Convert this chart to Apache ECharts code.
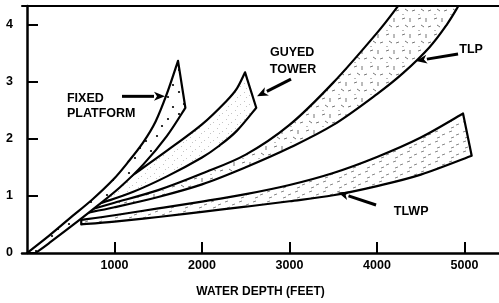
<!DOCTYPE html>
<html>
<head>
<meta charset="utf-8">
<script src="https://cdn.jsdelivr.net/npm/echarts@6/dist/echarts.min.js"></script>
<style>
html,body{margin:0;padding:0;background:#fff;}
#main{width:499px;height:303px;}
</style>
</head>
<body>
<div id="main"></div>
<script>
// axis ticks
var xTicks = [1000, 2000, 3000, 4000, 5000];
var yTicks = [0, 1, 2, 3, 4];

// band outlines [water depth ft, ratio]; upper edge left->right, lower edge right->left
var fixedUpper = [[0, 0], [250, 0.3], [491, 0.61], [750, 0.94], [983, 1.28], [1150, 1.58], [1326, 1.93], [1470, 2.3], [1600, 2.79], [1726, 3.36]];
var fixedLower = [[1810, 2.54], [1600, 2.05], [1330, 1.55], [1063, 1.15], [800, 0.82], [500, 0.46], [250, 0.17], [100, 0]];

var guyedUpper = [[830, 0.96], [1000, 1.14], [1215, 1.37], [1600, 1.79], [2000, 2.25], [2280, 2.66], [2400, 2.88], [2492, 3.16]];
var guyedLower = [[2620, 2.54], [2400, 2.14], [2200, 1.88], [2000, 1.67], [1600, 1.34], [1215, 1.07], [900, 0.9], [830, 0.87]];

var tlpUpper = [[680, 0.74], [1000, 0.88], [1500, 1.1], [2000, 1.39], [2500, 1.72], [3000, 2.24], [3500, 2.98], [4000, 3.85], [4240, 4.32]];
var tlpLower = [[4930, 4.32], [4800, 4.0], [4600, 3.6], [4300, 3.15], [4000, 2.78], [3500, 2.24], [3000, 1.84], [2500, 1.5], [2000, 1.2], [1500, 0.98], [1000, 0.8], [680, 0.7]];

var tlwpUpper = [[620, 0.58], [1000, 0.66], [1500, 0.78], [2000, 0.9], [2500, 1.03], [3000, 1.19], [3500, 1.4], [4000, 1.68], [4500, 2.02], [4983, 2.44]];
var tlwpLower = [[5082, 1.7], [4500, 1.37], [4000, 1.17], [3500, 1.01], [3000, 0.905], [2500, 0.81], [2000, 0.72], [1500, 0.63], [1000, 0.55], [620, 0.5]];

// labels and arrows (data coords)
var notes = [
  {text: 'FIXED', at: [457, 2.71], align: 'left'},
  {text: 'PLATFORM', at: [457, 2.44], align: 'left'},
  {text: 'GUYED', at: [3030, 3.5], align: 'center'},
  {text: 'TOWER', at: [3040, 3.21], align: 'center'},
  {text: 'TLP', at: [5075, 3.56], align: 'center'},
  {text: 'TLWP', at: [4390, 0.72], align: 'center'}
];
var arrows = [
  {from: [1086, 2.74], to: [1577, 2.74]},
  {from: [3017, 3.04], to: [2629, 2.74]},
  {from: [4926, 3.48], to: [4446, 3.36]},
  {from: [3989, 0.84], to: [3555, 1.06]}
];

function tile(w, h, draw) {
  var c = document.createElement('canvas');
  c.width = w; c.height = h;
  var ctx = c.getContext('2d');
  ctx.fillStyle = '#fff';
  ctx.fillRect(0, 0, w, h);
  draw(ctx);
  return {image: c, repeat: 'repeat'};
}
var dotFill = tile(22, 22, function(ctx) {
  ctx.fillStyle = '#000';
  [[3, 4], [14, 9], [8, 16], [19, 19]].forEach(function(p) {
    ctx.beginPath(); ctx.arc(p[0], p[1], 1.1, 0, Math.PI * 2); ctx.fill();
  });
});
var speckFill = tile(9, 9, function(ctx) {
  ctx.fillStyle = '#c4c4c4';
  ctx.fillRect(1, 2, 1, 1); ctx.fillRect(6, 5, 1, 1); ctx.fillRect(3, 7, 1, 1);
});
var dashFill = tile(16, 16, function(ctx) {
  ctx.strokeStyle = '#777'; ctx.lineWidth = 1;
  [[2, 3, 5, 2], [10, 2, 10, 6], [5, 9, 8, 11], [12, 11, 15, 10], [3, 14, 3, 15]].forEach(function(s) {
    ctx.beginPath(); ctx.moveTo(s[0], s[1]); ctx.lineTo(s[2], s[3]); ctx.stroke();
  });
});
var flatDashFill = tile(14, 10, function(ctx) {
  ctx.strokeStyle = '#888'; ctx.lineWidth = 1;
  [[1, 2, 4, 1], [8, 5, 11, 4], [3, 8, 6, 7]].forEach(function(s) {
    ctx.beginPath(); ctx.moveTo(s[0], s[1]); ctx.lineTo(s[2], s[3]); ctx.stroke();
  });
});

// smooth curve through pixel points (catmull-rom as cubic beziers)
function curveTo(p) {
  var s = '';
  for (var i = 0; i < p.length - 1; i++) {
    var p0 = p[Math.max(i - 1, 0)], p1 = p[i], p2 = p[i + 1], p3 = p[Math.min(i + 2, p.length - 1)];
    var c1x = p1[0] + (p2[0] - p0[0]) / 6, c1y = p1[1] + (p2[1] - p0[1]) / 6;
    var c2x = p2[0] - (p3[0] - p1[0]) / 6, c2y = p2[1] - (p3[1] - p1[1]) / 6;
    s += ' C' + c1x.toFixed(2) + ',' + c1y.toFixed(2) + ' ' + c2x.toFixed(2) + ',' + c2y.toFixed(2) + ' ' + p2[0].toFixed(2) + ',' + p2[1].toFixed(2);
  }
  return s;
}

function band(upper, lower, fill) {
  return {
    type: 'custom',
    coordinateSystem: 'cartesian2d',
    data: [[0, 0]],
    silent: true,
    clip: true,
    renderItem: function(params, api) {
      var u = upper.map(function(d) { return api.coord(d); });
      var l = lower.map(function(d) { return api.coord(d); });
      var d = 'M' + u[0][0] + ',' + u[0][1] + curveTo(u) +
        ' L' + l[0][0] + ',' + l[0][1] + curveTo(l) + ' Z';
      return {
        type: 'path',
        shape: {pathData: d},
        style: {fill: fill, stroke: '#000', lineWidth: 2.2, lineJoin: 'round'}
      };
    }
  };
}

function arrowShape(a, b) {
  var dx = b[0] - a[0], dy = b[1] - a[1];
  var len = Math.sqrt(dx * dx + dy * dy);
  var ux = dx / len, uy = dy / len, nx = -uy, ny = ux;
  var hl = 11, hw = 4.5;
  var bx = b[0] - ux * hl, by = b[1] - uy * hl;
  return [
    {type: 'line', shape: {x1: a[0], y1: a[1], x2: bx, y2: by}, style: {stroke: '#000', lineWidth: 3}},
    {type: 'polygon', shape: {points: [[b[0], b[1]], [bx + nx * hw, by + ny * hw], [bx + ux * 3, by + uy * 3], [bx - nx * hw, by - ny * hw]]}, style: {fill: '#000'}}
  ];
}

var chart = echarts.init(document.getElementById('main'), null, {renderer: 'canvas'});
var font = 'Liberation Sans, Arial, sans-serif';

var option = {
  animation: false,
  backgroundColor: '#fff',
  grid: {left: 22, right: 0, top: 6, bottom: 40, containLabel: false},
  xAxis: [{
    type: 'value', min: -57, max: 5394,
    name: 'WATER DEPTH (FEET)', nameLocation: 'middle', nameGap: 33,
    nameTextStyle: {color: '#000', fontWeight: 'bold', fontSize: 12, fontFamily: font},
    axisLine: {lineStyle: {color: '#000', width: 2.5}},
    axisTick: {inside: true, length: 11, customValues: xTicks, lineStyle: {color: '#000', width: 2}},
    axisLabel: {customValues: xTicks, formatter: function(v) { return String(v); },
      color: '#000', fontWeight: 'bold', fontSize: 12.5, fontFamily: font, margin: 6},
    splitLine: {show: false}
  }, {
    type: 'value', position: 'top', min: -57, max: 5394,
    axisLine: {lineStyle: {color: '#000', width: 2}},
    axisTick: {show: false}, axisLabel: {show: false}, splitLine: {show: false}
  }],
  yAxis: {
    type: 'value', min: 0, max: 4.32,
    axisLine: {show: true, lineStyle: {color: '#000', width: 2.5}},
    axisTick: {show: true, inside: true, length: 11, customValues: [1, 2, 3, 4], lineStyle: {color: '#000', width: 2}},
    axisLabel: {customValues: yTicks, color: '#000', fontWeight: 'bold', fontSize: 12.5, fontFamily: font, margin: 9},
    splitLine: {show: false}
  },
  series: [
    band(tlwpUpper, tlwpLower, flatDashFill),
    band(tlpUpper, tlpLower, dashFill),
    band(guyedUpper, guyedLower, speckFill),
    band(fixedUpper, fixedLower, dotFill),
    {
      type: 'custom',
      coordinateSystem: 'cartesian2d',
      data: [[0, 0]],
      silent: true,
      renderItem: function(params, api) {
        var kids = [];
        notes.forEach(function(n) {
          var p = api.coord(n.at);
          kids.push({type: 'text', x: p[0], y: p[1], style: {text: n.text, align: n.align, verticalAlign: 'middle',
            textAlign: n.align, textVerticalAlign: 'middle', fill: '#000', font: 'bold 12.5px ' + font}});
        });
        arrows.forEach(function(ar) {
          kids = kids.concat(arrowShape(api.coord(ar.from), api.coord(ar.to)));
        });
        return {type: 'group', children: kids};
      }
    }
  ]
};
chart.setOption(option);
</script>
</body>
</html>
